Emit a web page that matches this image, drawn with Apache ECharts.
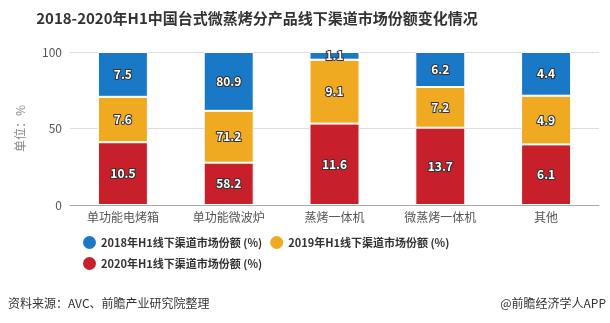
<!DOCTYPE html>
<html><head><meta charset="utf-8">
<script src="https://cdn.jsdelivr.net/npm/echarts@6/dist/echarts.min.js"></script>
<style>html,body{margin:0;padding:0;background:#fff}#c{width:610px;height:323px}</style>
</head><body><div id="c"></div>
<script>
const categories = ['单功能电烤箱','单功能微波炉','蒸烤一体机','微蒸烤一体机','其他'];
const s2018 = [7.5, 80.9, 1.1, 6.2, 4.4];
const s2019 = [7.6, 71.2, 9.1, 7.2, 4.9];
const s2020 = [10.5, 58.2, 11.6, 13.7, 6.1];
const names = ['2018年H1线下渠道市场份额 (%)','2019年H1线下渠道市场份额 (%)','2020年H1线下渠道市场份额 (%)'];
const yTicks = [0, 50, 100];
const totals = categories.map((c,i)=>s2018[i]+s2019[i]+s2020[i]);
const font = '"Noto Sans CJK SC", "Noto Sans", sans-serif';
function mk(name, raw, color){
  return {
    name, type:'bar', stack:'a', barWidth:50,
    data: raw.map((v,i)=>v/totals[i]*100),
    itemStyle:{color, borderColor:'#fff', borderWidth:1},
    label:{show:true, position:'inside', color:'#fff', fontWeight:'bold', fontSize:12, fontFamily:font,
      textBorderColor:'#333', textBorderWidth:2,
      formatter: p => raw[p.dataIndex].toFixed(1)}
  };
}
const legendText = {fontSize:11, fontWeight:'bold', color:'#333', fontFamily:font};
const chart = echarts.init(document.getElementById('c'));
chart.setOption({
  animation:false,
  textStyle:{fontFamily:font},
  title:{text:'2018-2020年H1中国台式微蒸烤分产品线下渠道市场份额变化情况', left:252, textAlign:'center', top:6,
    textStyle:{fontSize:15, fontWeight:'bold', color:'#333', fontFamily:font}},
  legend:[
    {data:[names[0], names[1]], left:78, top:231, itemGap:8, icon:'circle', itemWidth:13, itemHeight:13, itemStyle:{borderWidth:0}, textStyle:legendText},
    {data:[names[2]], left:78, top:252, icon:'circle', itemWidth:13, itemHeight:13, itemStyle:{borderWidth:0}, textStyle:legendText}
  ],
  grid:{left:70, right:11, top:52, bottom:118},
  xAxis:{type:'category', data:categories,
    axisLine:{lineStyle:{color:'#aaa'}}, axisTick:{alignWithLabel:true, lineStyle:{color:'#aaa'}},
    axisLabel:{color:'#555', fontSize:12, margin:6}},
  yAxis:{type:'value', min:yTicks[0], max:yTicks[yTicks.length-1], interval:50,
    name:'单位：%', nameLocation:'middle', nameRotate:90, nameGap:44,
    nameTextStyle:{color:'#888', fontSize:12},
    axisLine:{show:false}, axisTick:{show:false},
    axisLabel:{color:'#555', fontSize:12},
    splitLine:{lineStyle:{color:'#ddd'}}},
  graphic:[
    {type:'text', left:8, top:297, style:{text:'资料来源：AVC、前瞻产业研究院整理', fill:'#333', fontSize:12, fontFamily:font}},
    {type:'text', right:4, top:297, style:{text:'@前瞻经济学人APP', fill:'#333', fontSize:12, fontFamily:font}}
  ],
  series:[
    mk(names[2], s2020, '#c8202a'),
    mk(names[1], s2019, '#efaa22'),
    mk(names[0], s2018, '#1a79c6')
  ]
});
</script></body></html>
